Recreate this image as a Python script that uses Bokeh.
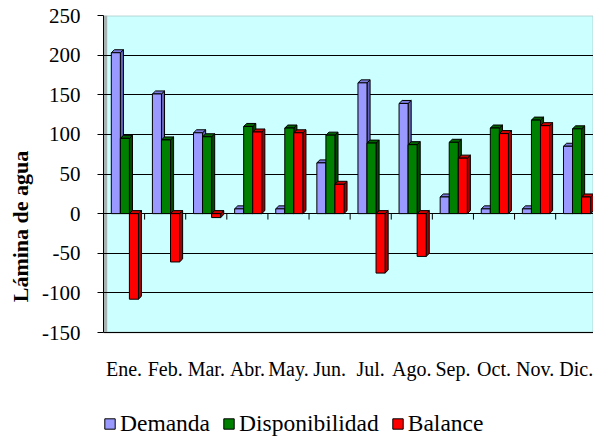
from bokeh.plotting import figure
from bokeh.models import Range1d, FixedTicker, Legend, LegendItem, BoxAnnotation
from bokeh.core.properties import value
from bokeh.embed import file_html
from bokeh.resources import INLINE

months = ["Ene.", "Feb.", "Mar.", "Abr.", "May.", "Jun.", "Jul.", "Ago.", "Sep.", "Oct.", "Nov.", "Dic."]
demanda = [203, 151, 102, 6, 6, 64, 165, 139, 21, 6, 6, 85]
disponibilidad = [95, 93, 97, 110, 108, 99, 89, 87, 90, 108, 118, 107]
balance = [-108, -61, -5, 103, 102, 37, -75, -54, 70, 101, 111, 21]
y_ticks = [-150, -100, -50, 0, 50, 100, 150, 200, 250]
series_names = ["Demanda", "Disponibilidad", "Balance"]

FONT = "Liberation Serif"
front_colors = ["#9999FF", "#008000", "#FF0000"]
side_colors = ["#6464c0", "#004a00", "#a00000"]
top_colors = ["#7c7ce0", "#006400", "#d00000"]

Y_MIN, Y_MAX = y_ticks[0], y_ticks[-1]
PX_PER_UNIT = 317 / (Y_MAX - Y_MIN)
FRAME_H = 437 - 15
y_bottom = Y_MAX - FRAME_H / PX_PER_UNIT
label_y = Y_MAX - (368 - 15) / PX_PER_UNIT

p = figure(width=593, height=437, x_range=Range1d(0, 11.92), y_range=Range1d(y_bottom, Y_MAX),
           output_backend="svg", toolbar_location=None, x_axis_location=None,
           min_border_left=103, min_border_right=0, min_border_top=15, min_border_bottom=0)
p.background_fill_color = "white"
p.border_fill_color = "white"
p.outline_line_color = None

# plot area (back wall) and left wall
p.add_layout(BoxAnnotation(bottom=Y_MIN, top=Y_MAX, fill_color="#CCFFFF", fill_alpha=1,
                           line_color="#707070", line_width=2, level="image"))
p.add_layout(BoxAnnotation(left=0, right=0.09, bottom=Y_MIN, top=Y_MAX, fill_color="#a8b4b4",
                           fill_alpha=1, line_color=None, level="image"))

bar_w = 0.22
dx = 0.075
dy = 3.8
series = [demanda, disponibilidad, balance]
fronts = []
for k, vals in enumerate(series):
    off = (k - 1) * bar_w + 0.02
    lefts, rights, bots, tops = [], [], [], []
    for i, v in enumerate(vals):
        c = i + 0.5 + off
        lefts.append(c - bar_w / 2)
        rights.append(c + bar_w / 2)
        bots.append(min(0, v))
        tops.append(max(0, v))
    side_xs = [[r, r + dx, r + dx, r] for r in rights]
    side_ys = [[b, b + dy, t + dy, t] for b, t in zip(bots, tops)]
    top_xs = [[l, l + dx, r + dx, r] for l, r in zip(lefts, rights)]
    top_ys = [[t, t + dy, t + dy, t] for t in tops]
    p.patches(side_xs, side_ys, fill_color=side_colors[k], line_color="black", line_width=1)
    p.patches(top_xs, top_ys, fill_color=top_colors[k], line_color="black", line_width=1)
    fr = p.quad(left=lefts, right=rights, bottom=bots, top=tops,
                fill_color=front_colors[k], line_color="black", line_width=1)
    fronts.append(fr)

# category tick marks along the zero line
bounds = list(range(1, len(months)))
p.segment(x0=bounds, y0=[0] * len(bounds), x1=bounds, y1=[-7.5] * len(bounds),
          line_color="black", line_width=1)

# category labels
p.text(x=[i + 0.5 for i in range(len(months))], y=[label_y] * len(months), text=months,
       text_align="center", text_baseline="middle", text_font=value(FONT),
       text_font_size="20px", text_color="black")

# y axis
p.yaxis.ticker = FixedTicker(ticks=y_ticks)
p.yaxis.bounds = (Y_MIN, Y_MAX)
p.yaxis.major_label_overrides = {v: str(v) for v in y_ticks}
p.yaxis.axis_line_color = "black"
p.yaxis.axis_line_width = 1
p.yaxis.major_tick_out = 6
p.yaxis.major_tick_in = 0
p.yaxis.major_tick_line_color = "black"
p.yaxis.minor_tick_line_color = None
p.yaxis.major_label_standoff = 17
p.yaxis.major_label_text_font = FONT
p.yaxis.major_label_text_font_size = "21px"
p.yaxis.major_label_text_color = "black"
p.yaxis.axis_label = "Lámina de agua"
p.yaxis.axis_label_text_font = FONT
p.yaxis.axis_label_text_font_size = "22px"
p.yaxis.axis_label_text_font_style = "bold"
p.yaxis.axis_label_text_color = "black"
p.yaxis.axis_label_standoff = 6

p.xgrid.visible = False
p.ygrid.ticker = FixedTicker(ticks=y_ticks)
p.ygrid.grid_line_color = "black"
p.ygrid.grid_line_width = 1

legend = Legend(items=[LegendItem(label=n, renderers=[r]) for n, r in zip(series_names, fronts)],
                orientation="horizontal", location=(0, 0))
legend.border_line_color = None
legend.background_fill_alpha = 0
legend.padding = 0
legend.margin = 0
legend.spacing = 12
legend.glyph_width = 13
legend.glyph_height = 13
legend.label_standoff = 4
legend.label_text_font = FONT
legend.label_text_font_size = "23.5px"
legend.label_text_color = "black"
p.add_layout(legend)

open("out.html", "w").write(file_html(p, INLINE))
